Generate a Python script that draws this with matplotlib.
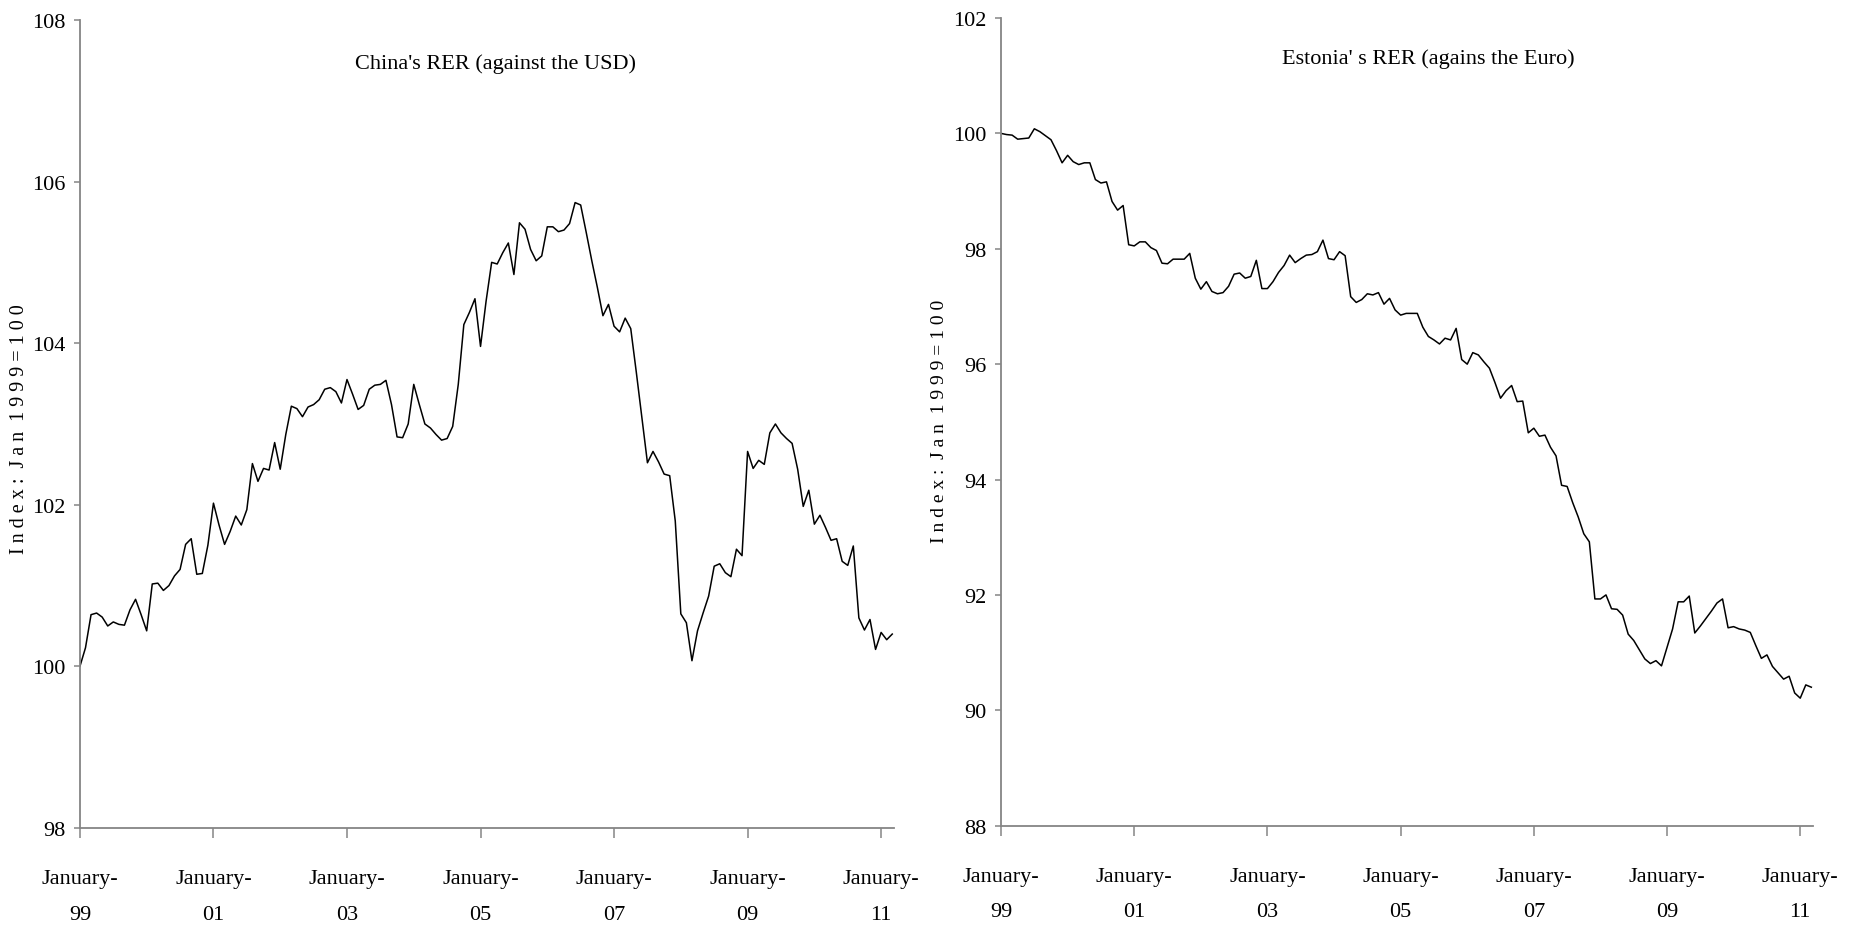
import numpy as np
import matplotlib
matplotlib.use('Agg')
import matplotlib.pyplot as plt

plt.rcParams['font.family'] = ['Liberation Serif', 'DejaVu Serif']

# monthly index, Jan 1999 .. Mar 2011 (Jan 1999 = 100)
china_rer = [
    100.00, 100.23, 100.64, 100.66, 100.61, 100.50, 100.55, 100.52, 100.51, 100.70, 100.83, 100.64,  # 1999
    100.44, 101.02, 101.03, 100.94, 101.00, 101.12, 101.20, 101.51, 101.58, 101.14, 101.15, 101.50,  # 2000
    102.02, 101.75, 101.51, 101.67, 101.86, 101.75, 101.94, 102.51, 102.29, 102.45, 102.43, 102.77,  # 2001
    102.44, 102.87, 103.22, 103.19, 103.09, 103.21, 103.24, 103.30, 103.43, 103.45, 103.40, 103.26,  # 2002
    103.55, 103.37, 103.18, 103.23, 103.43, 103.48, 103.49, 103.54, 103.24, 102.84, 102.83, 103.00,  # 2003
    103.49, 103.24, 103.00, 102.95, 102.87, 102.80, 102.82, 102.97, 103.49, 104.23, 104.38, 104.55,  # 2004
    103.96, 104.52, 105.00, 104.98, 105.12, 105.24, 104.85, 105.49, 105.41, 105.16, 105.02, 105.08,  # 2005
    105.44, 105.44, 105.38, 105.40, 105.48, 105.74, 105.71, 105.37, 105.02, 104.69, 104.34, 104.48,  # 2006
    104.21, 104.14, 104.31, 104.18, 103.64, 103.08, 102.52, 102.66, 102.53, 102.38, 102.36, 101.80,  # 2007
    100.65, 100.54, 100.07, 100.44, 100.66, 100.87, 101.24, 101.27, 101.16, 101.11, 101.45, 101.37,  # 2008
    102.66, 102.45, 102.55, 102.50, 102.89, 103.00, 102.89, 102.82, 102.76, 102.44, 101.98, 102.18,  # 2009
    101.76, 101.87, 101.72, 101.56, 101.58, 101.30, 101.25, 101.49, 100.60, 100.45, 100.58, 100.21,  # 2010
    100.42, 100.33, 100.40]  # 2011

estonia_rer = [
    100.00, 99.98, 99.97, 99.90, 99.91, 99.92, 100.08, 100.03, 99.96, 99.89, 99.70, 99.49,  # 1999
    99.62, 99.51, 99.46, 99.49, 99.49, 99.20, 99.14, 99.16, 98.82, 98.67, 98.75, 98.07,  # 2000
    98.05, 98.12, 98.12, 98.02, 97.97, 97.75, 97.74, 97.82, 97.82, 97.82, 97.92, 97.49,  # 2001
    97.30, 97.43, 97.26, 97.22, 97.24, 97.35, 97.56, 97.58, 97.49, 97.52, 97.80, 97.31,  # 2002
    97.31, 97.43, 97.59, 97.71, 97.89, 97.76, 97.83, 97.89, 97.90, 97.95, 98.15, 97.83,  # 2003
    97.81, 97.95, 97.88, 97.17, 97.07, 97.12, 97.22, 97.20, 97.24, 97.04, 97.14, 96.94,  # 2004
    96.85, 96.88, 96.88, 96.88, 96.64, 96.48, 96.42, 96.35, 96.45, 96.42, 96.62, 96.08,  # 2005
    96.00, 96.20, 96.16, 96.04, 95.93, 95.68, 95.41, 95.54, 95.63, 95.35, 95.36, 94.81,  # 2006
    94.89, 94.75, 94.77, 94.56, 94.41, 93.90, 93.88, 93.60, 93.35, 93.06, 92.92, 91.93,  # 2007
    91.93, 92.00, 91.76, 91.75, 91.65, 91.32, 91.21, 91.05, 90.89, 90.81, 90.86, 90.77,  # 2008
    91.09, 91.41, 91.88, 91.88, 91.98, 91.34, 91.46, 91.59, 91.72, 91.86, 91.93, 91.43,  # 2009
    91.45, 91.41, 91.39, 91.35, 91.12, 90.90, 90.96, 90.76, 90.65, 90.54, 90.59, 90.30,  # 2010
    90.21, 90.44, 90.40]  # 2011

xtick_pos = [0, 24, 48, 72, 96, 120, 144]
xtick_labels = ['January-\n99', 'January-\n01', 'January-\n03', 'January-\n05',
                'January-\n07', 'January-\n09', 'January-\n11']

titles = ["China's RER (against the USD)", "Estonia' s RER (agains the Euro)"]
ylabel = 'I n d e x :  J a n  1 9 9 9 = 1 0 0'

axis_grey = '#858585'


def draw_panel(ax, vals, ylo, yhi, title, title_x, title_y):
    x = np.arange(len(vals))
    ax.plot(x, vals, color='black', lw=1.1)

    ax.set_xlim(0, 146.3)
    ax.set_ylim(ylo, yhi)
    ax.set_yticks(np.arange(ylo, yhi + 1, 2))
    ax.set_xticks(xtick_pos)
    ax.set_xticklabels(xtick_labels, fontsize=16, linespacing=2.2)

    for s in ['top', 'right']:
        ax.spines[s].set_visible(False)
    for s in ['left', 'bottom']:
        ax.spines[s].set_color(axis_grey)
        ax.spines[s].set_linewidth(1.3)

    ax.tick_params(axis='y', direction='out', length=4.5, width=1.1,
                   color=axis_grey, labelsize=16, pad=6)
    ax.tick_params(axis='x', direction='out', length=7.5, width=1.1,
                   color=axis_grey, labelsize=16, pad=22)

    ax.text(title_x, title_y, title, transform=ax.transAxes,
            ha='center', va='center', fontsize=16)


fig = plt.figure(figsize=(18.5, 9.28), dpi=100)

ax1 = fig.add_axes([0.0432, 0.1067, 0.44, 0.8707])
draw_panel(ax1, china_rer, 98, 108, titles[0], 0.511, 0.946)

ax2 = fig.add_axes([0.5411, 0.1092, 0.4389, 0.8703])
draw_panel(ax2, estonia_rer, 88, 102, titles[1], 0.526, 0.95)

fig.text(20 / 1850, 1 - 429 / 928, ylabel, rotation=90,
         ha='center', va='center', fontsize=14.5)
fig.text(939 / 1850, 1 - 421 / 928, ylabel, rotation=90,
         ha='center', va='center', fontsize=14)

fig.savefig('out.png', dpi=100)
